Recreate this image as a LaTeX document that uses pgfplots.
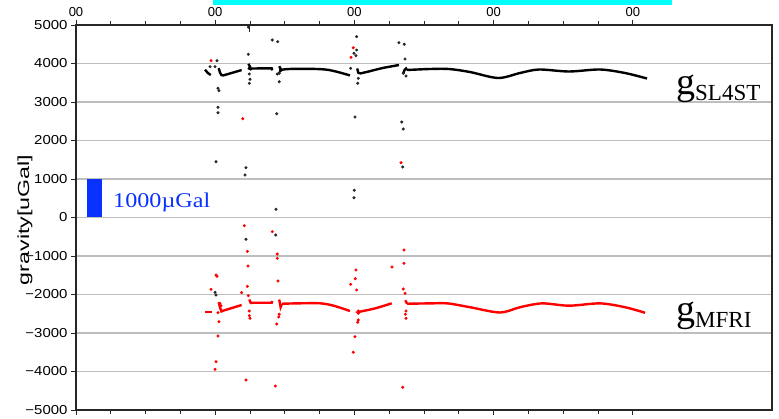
\documentclass[border=0pt]{standalone}
\usepackage{fontspec}
\setmainfont{Liberation Serif}
\setsansfont{Liberation Sans}
\usepackage{pgfplots}
\pgfplotsset{compat=1.18}
\definecolor{gridgray}{RGB}{190,190,190}
\definecolor{scaleblue}{RGB}{10,50,255}
\definecolor{topcyan}{RGB}{0,255,255}
\newcommand{\yl}[1]{\scalebox{1.15}[1]{#1}}
\begin{document}
\begin{tikzpicture}
\useasboundingbox (0,0) rectangle (779pt,419pt);
\fill[topcyan] (213pt,414pt) rectangle (672pt,419pt);
\begin{axis}[
  at={(76pt,9pt)}, anchor=south west,
  scale only axis, width=696pt, height=385pt,
  xmin=0, xmax=5, ymin=-5000, ymax=5000,
  clip=false,
  axis line style={line width=1.5pt, black!85},
  xtick={0,1,2,3,4}, xticklabels={00,00,00,00,00},
  minor x tick num=3,
  xtick pos=both, xticklabel pos=upper,
  ytick={-5000,-4000,-3000,-2000,-1000,0,1000,2000,3000,4000,5000},
  yticklabels={\yl{−5000},\yl{−4000},\yl{−3000},\yl{−2000},\yl{−1000},\yl{0},\yl{1000},\yl{2000},\yl{3000},\yl{4000},\yl{5000}},
  ytick pos=left,
  tick align=outside,
  major tick length=5pt, minor tick length=4pt,
  every tick/.style={black!85, line width=0.9pt},
  ymajorgrids, grid style={line width=1.7pt, gridgray},
  ticklabel style={font=\fontsize{13}{13}\selectfont\sffamily},
  /pgf/number format/assume math mode=true,
]
% scale bar 1000 uGal
\fill[scaleblue] (axis cs:0.079,0) rectangle (axis cs:0.187,1000);
\draw[line width=1pt, black!85] (axis cs:1.243,5000) -- (axis cs:1.243,4830);
% ---- g_SL4ST (black) line segments
\addplot[black, line width=2.4pt] coordinates {(0.927,3840) (0.945,3760) (0.968,3700)};
\addplot[black, line width=2.4pt] coordinates {(1.025,3880) (1.035,3760) (1.045,3700) (1.058,3690) (1.190,3830)};
\addplot[black, line width=2.4pt] coordinates {(1.238,3990) (1.250,3920) (1.243,3870) (1.255,3850) (1.264,3870) (1.406,3875) (1.410,3820)};
\addplot[black, line width=2.4pt] coordinates {(1.460,3930) (1.470,3860) (1.466,3800) (1.480,3840)};
\addplot[black, line width=2.4pt, smooth] coordinates {(1.480,3840) (1.55,3860) (1.70,3860) (1.80,3840) (1.88,3780) (1.968,3690)};
\addplot[black, line width=2.4pt] coordinates {(2.020,3870) (2.028,3760) (2.040,3740)};
\addplot[black, line width=2.4pt, smooth] coordinates {(2.040,3740) (2.10,3790) (2.20,3880) (2.320,3960)};
\addplot[black, line width=2.4pt] coordinates {(2.351,3745) (2.360,3830) (2.371,3870) (2.378,3831)};
\addplot[black, line width=2.4pt, smooth] coordinates {(2.378,3831) (2.543,3857) (2.680,3857) (2.830,3779) (3.032,3623) (3.190,3753) (3.326,3844) (3.542,3792) (3.764,3844) (3.944,3753) (4.102,3610)};
% ---- g_MFRI (red) line segments
\addplot[red, line width=2.4pt] coordinates {(0.927,-2462) (0.975,-2462)};
\addplot[red, line width=2.4pt] coordinates {(1.025,-2200) (1.034,-2330) (1.045,-2440) (1.058,-2420) (1.190,-2273)};
\addplot[red, line width=2.4pt] coordinates {(1.245,-2130) (1.255,-2220) (1.264,-2215) (1.406,-2213) (1.410,-2170)};
\addplot[red, line width=2.4pt] coordinates {(1.460,-2130) (1.470,-2330) (1.480,-2240)};
\addplot[red, line width=2.4pt, smooth] coordinates {(1.480,-2240) (1.609,-2229) (1.753,-2229) (1.85,-2290) (1.968,-2429)};
\addplot[red, line width=2.4pt, smooth] coordinates {(2.030,-2460) (2.040,-2446) (2.15,-2360) (2.268,-2229)};
\addplot[red, line width=2.4pt] coordinates {(2.366,-2150) (2.378,-2240)};
\addplot[red, line width=2.4pt, smooth] coordinates {(2.378,-2240) (2.543,-2231) (2.670,-2231) (2.830,-2330) (3.046,-2468) (3.190,-2330) (3.348,-2231) (3.542,-2291) (3.764,-2231) (3.944,-2330) (4.088,-2475)};
% ---- black scattered points
\addplot[only marks, mark=*, mark size=1.3pt, black!85] coordinates {
(1.238,4942) (1.410,4610) (1.449,4566) (1.238,4239) (1.013,4073)
(0.963,3917) (0.999,3917) (1.020,3356) (1.027,3294) (1.020,2862) (1.020,2722)
(1.006,1449) (1.221,1294) (1.214,1104) (1.437,213) (1.442,2696)
(1.245,3727) (1.250,3589) (1.245,3486) (1.460,3745) (1.446,3727) (1.460,3527)
(2.016,4696) (2.016,4351) (1.997,4265) (2.011,4203) (1.973,3875)
(2.028,3615) (2.024,3486) (2.004,2610) (1.999,706) (1.997,514)
(2.320,4540) (2.358,4499) (2.364,4117) (2.351,3745) (2.371,3675)
(2.340,2481) (2.351,2299) (2.347,1312)
(1.221,-566) (1.435,-455) (0.999,-1943) (1.006,-2013)
};
% ---- red scattered points
\addplot[only marks, mark=*, mark size=1.3pt, red] coordinates {
(0.970,4073) (1.198,2566) (1.992,4410) (1.976,4161) (2.335,1423)
(1.209,-213) (1.410,-368) (1.231,-879) (1.446,-948) (1.446,-1061)
(1.236,-1260) (1.006,-1494) (1.013,-1528) (1.451,-1649) (0.970,-1866)
(1.231,-1788) (1.190,-1952) (1.238,-2031) (1.034,-2229) (1.042,-2291)
(1.020,-2472) (1.245,-2429) (1.245,-2551) (1.250,-2618)
(1.460,-2514) (1.456,-2584) (1.442,-2766) (1.027,-2706) (1.020,-3078)
(1.006,-3745) (0.999,-3943) (1.221,-4221) (1.432,-4377)
(2.356,-844) (2.356,-1190) (2.270,-1286) (2.011,-1364) (2.006,-1590)
(1.973,-1735) (2.016,-1883) (2.351,-1857) (2.364,-1970)
(2.028,-2429) (2.028,-2488) (2.028,-2662) (2.024,-2722)
(2.371,-2429) (2.366,-2514) (2.371,-2618)
(2.004,-3096) (1.992,-3501) (2.347,-4410)
};
\end{axis}
\node[rotate=90, font=\fontsize{16}{16}\selectfont\sffamily] at (25pt,199pt) {\scalebox{1.45}[1]{gravity[uGal]}};
\node[anchor=base west, inner sep=0pt, text=scaleblue, font=\fontsize{21}{21}\selectfont] at (113pt,211pt) {\scalebox{1.15}[1]{1000µGal}};
\node[anchor=base west, inner sep=0pt] at (676pt,324pt) {\fontsize{38}{38}\selectfont g\raisebox{-6pt}{\fontsize{23}{23}\selectfont SL4ST}};
\node[anchor=base west, inner sep=0pt] at (676pt,97pt) {\fontsize{38}{38}\selectfont g\raisebox{-6pt}{\fontsize{23}{23}\selectfont MFRI}};
\end{tikzpicture}
\end{document}
